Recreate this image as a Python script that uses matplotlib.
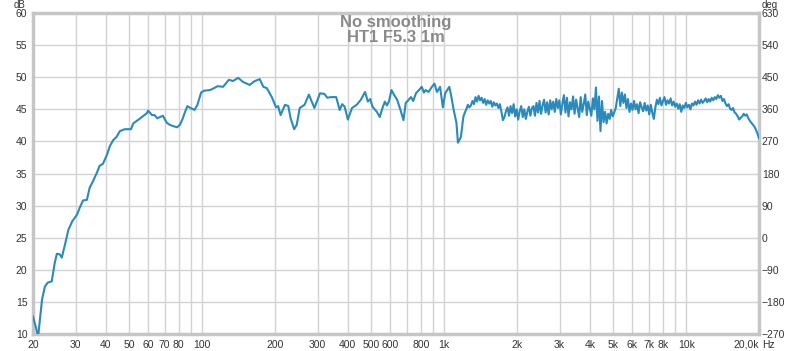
import numpy as np
import matplotlib
matplotlib.use('Agg')
import matplotlib.pyplot as plt

# frequency response (Hz, dB)
low_freq = [20, 20.5, 21.0, 21.4, 21.8, 22.4, 23.0, 23.9, 24.6, 25.1, 25.8, 26.3, 27.1, 28.0,
            29.0, 30.4, 31.3, 32.2, 33.4, 34.3, 35.3, 36.7, 37.7, 38.9, 40.4, 41.6, 42.9, 44.3,
            45.7, 47.9, 50.8, 51.9, 55.5, 59.1, 59.8, 62.0, 63.6, 65.3, 68.8, 71.4, 73.4, 75.6,
            78.8, 81.0, 83.2, 84.6, 86.9, 88.5, 93.0, 95.6, 99.0, 102, 108, 110.6, 116, 122,
            129, 134, 141, 147, 157, 165, 173, 179, 185, 194, 202, 206, 211, 220, 227, 232,
            240, 246, 253, 265, 276, 291, 307, 320, 329, 341, 358, 370, 379, 388, 400, 416,
            435, 453, 471, 484, 495, 506, 527, 542, 555, 569, 580, 591, 606, 622, 639, 660,
            679, 694, 710, 729, 745, 765, 787, 808, 825, 838, 862, 890, 912, 934, 962, 988,
            1010, 1050, 1067, 1095, 1124, 1140, 1173]
low_db = [12.7, 11.2, 9.6, 12.5, 15.4, 17.4, 18.0, 18.2, 21.1, 22.5, 22.4, 21.9, 23.9, 26.2,
          27.5, 28.6, 29.8, 30.8, 30.9, 32.8, 33.7, 35.1, 36.2, 36.5, 37.9, 39.3, 40.2, 40.7,
          41.6, 41.9, 41.9, 42.8, 43.6, 44.4, 44.8, 44.1, 44.1, 43.6, 44.0, 42.9, 42.6, 42.4,
          42.2, 42.6, 43.6, 44.4, 45.5, 45.3, 44.9, 45.7, 47.6, 47.9, 48.0, 48.2, 48.6, 48.5,
          49.6, 49.4, 49.9, 49.3, 48.8, 49.4, 49.7, 48.5, 48.3, 46.9, 45.3, 45.5, 44.1, 45.7,
          45.5, 43.6, 41.9, 42.6, 45.2, 45.7, 47.3, 45.2, 47.5, 47.4, 46.8, 46.9, 46.9, 44.9,
          45.8, 45.4, 43.4, 45.2, 45.7, 46.5, 47.7, 46.2, 46.6, 45.4, 44.6, 43.8, 45.1, 46.2,
          45.6, 46.2, 48.0, 47.2, 46.5, 44.9, 43.3, 46.0, 46.4, 46.9, 46.3, 47.5, 48.0, 48.5,
          47.6, 48.0, 47.7, 48.5, 49.0, 47.7, 48.5, 45.3, 47.5, 48.5, 47.3, 44.9, 42.9, 39.8,
          40.7]

# 1.2 kHz .. 20 kHz, log spaced (48 points per octave)
high_db = [43.8, 44.5, 45.0, 45.7, 45.3,
           45.6, 46.3, 45.8, 46.9, 46.2, 47.1, 46.4, 46.8,
           46.0, 46.6, 45.7, 46.4, 45.9, 46.3, 45.4, 46.1, 45.6, 45.9, 45.2, 45.8,
           44.6, 43.3, 43.8, 44.7,
           45.3, 44.0, 45.5, 44.4, 45.8, 43.9, 45.0, 43.4, 44.7, 45.5, 43.8, 45.0, 43.5, 44.6,
           45.4, 44.0, 45.2,
           45.5, 44.0, 46.0, 44.5, 46.3, 44.3, 45.6, 46.5, 44.5, 46.1, 44.2, 46.4, 45.0, 46.2,
           44.6, 46.6, 45.2,
           46.4, 44.2, 45.9, 47.2, 44.5, 46.8, 43.9, 46.1, 45.0, 47.0, 44.3, 46.5, 45.2, 43.8,
           46.9, 44.6, 45.8, 47.3, 44.1, 46.2, 45.1, 44.0, 46.7,
           45.0, 48.4, 43.2, 47.0, 41.6, 46.3, 43.0,
           44.6, 42.8, 44.3, 43.5, 44.9, 43.9, 44.5, 45.2,
           46.7, 48.2, 45.5, 47.6, 46.0, 47.3,
           45.2, 46.6, 44.6, 45.9, 44.9, 46.3, 45.0, 45.8, 44.4, 46.1, 45.3, 44.7, 46.0, 44.8,
           45.6, 44.2, 45.7, 44.5, 43.5, 45.3,
           46.5, 45.8, 46.8, 45.6, 46.3, 46.9, 45.7, 46.4, 45.9, 46.7, 45.6, 46.2, 45.4,
           45.9, 45.1, 45.8, 44.6, 45.6, 45.2, 46.0, 45.3, 45.7, 45.0, 45.9,
           45.6, 46.2, 45.7, 46.4, 45.9, 46.5, 46.0, 46.3, 46.7, 46.1, 46.6, 46.2, 46.8, 46.4,
           46.9,
           46.6, 47.2, 46.8, 47.1,
           46.3, 46.6, 45.9, 45.5, 45.8, 45.1, 44.9, 45.2, 44.5, 44.3, 43.9, 43.4, 43.7, 43.9,
           44.3, 44.0, 44.2, 43.6, 43.2, 42.9, 42.6, 42.3, 41.8, 41.2, 40.5]
high_freq = np.geomspace(1200, 20000, len(high_db))

freq = np.concatenate([low_freq, high_freq])
spl = np.concatenate([low_db, high_db])

grid_freqs = [20, 30, 40, 50, 60, 70, 80, 90, 100, 200, 300, 400, 500, 600, 700, 800, 900,
              1000, 2000, 3000, 4000, 5000, 6000, 7000, 8000, 9000, 10000, 20000]
grid_labels = ['20', '30', '40', '50', '60', '70', '80', '', '100', '200', '300', '400', '500',
               '600', '', '800', '', '1k', '2k', '3k', '4k', '5k', '6k', '7k', '8k', '', '10k',
               '20,0k']
db_ticks = [10, 15, 20, 25, 30, 35, 40, 45, 50, 55, 60]
deg_ticks = [-270, -180, -90, 0, 90, 180, 270, 360, 450, 540, 630]

plt.rcParams['font.family'] = ['Liberation Sans', 'DejaVu Sans']
text_color = '#333333'

fig = plt.figure(figsize=(8, 3.51), dpi=100)
ax = fig.add_axes([33 / 800, 1 - 334 / 351, (759 - 33) / 800, (334 - 13) / 351])

ax.plot(freq, spl, color='#2b8abd', lw=1.5, zorder=3)

ax.set_xscale('log')
ax.set_xlim(20, 20000)
ax.set_ylim(10, 60)
ax.set_xticks(grid_freqs)
ax.set_xticklabels(grid_labels)
ax.xaxis.set_minor_locator(matplotlib.ticker.NullLocator())
ax.set_yticks(db_ticks)
ax.grid(True, color='#d2d2d2', lw=1)
ax.tick_params(length=0, labelsize=7.5, colors=text_color, pad=4)
for lbl in ax.get_xticklabels():
    if lbl.get_text() == '20,0k':
        lbl.set_horizontalalignment('right')
for sp in ax.spines.values():
    sp.set_color('#c6c6c6')
    sp.set_linewidth(2.5)

ax2 = ax.twinx()
ax2.set_ylim(-270, 630)
ax2.set_yticks(deg_ticks)
ax2.tick_params(length=0, labelsize=7.5, colors=text_color, pad=2)
for sp in ax2.spines.values():
    sp.set_visible(False)

fig.text(14 / 800, 1 - 5 / 351, 'dB', fontsize=7, color=text_color, va='center')
fig.text(762 / 800, 1 - 5 / 351, 'deg', fontsize=7, color=text_color, va='center')
fig.text(762 / 800, 1 - 345 / 351, 'Hz', fontsize=7.5, color=text_color, va='center')

ax.text(0.5, 0.995, 'No smoothing\nHT1 F5.3 1m', transform=ax.transAxes, ha='center',
        va='top', fontsize=12, fontweight='bold', color='#8a8a8a', linespacing=1.0, zorder=4)

fig.savefig('out.png', dpi=100)
plt.close(fig)
